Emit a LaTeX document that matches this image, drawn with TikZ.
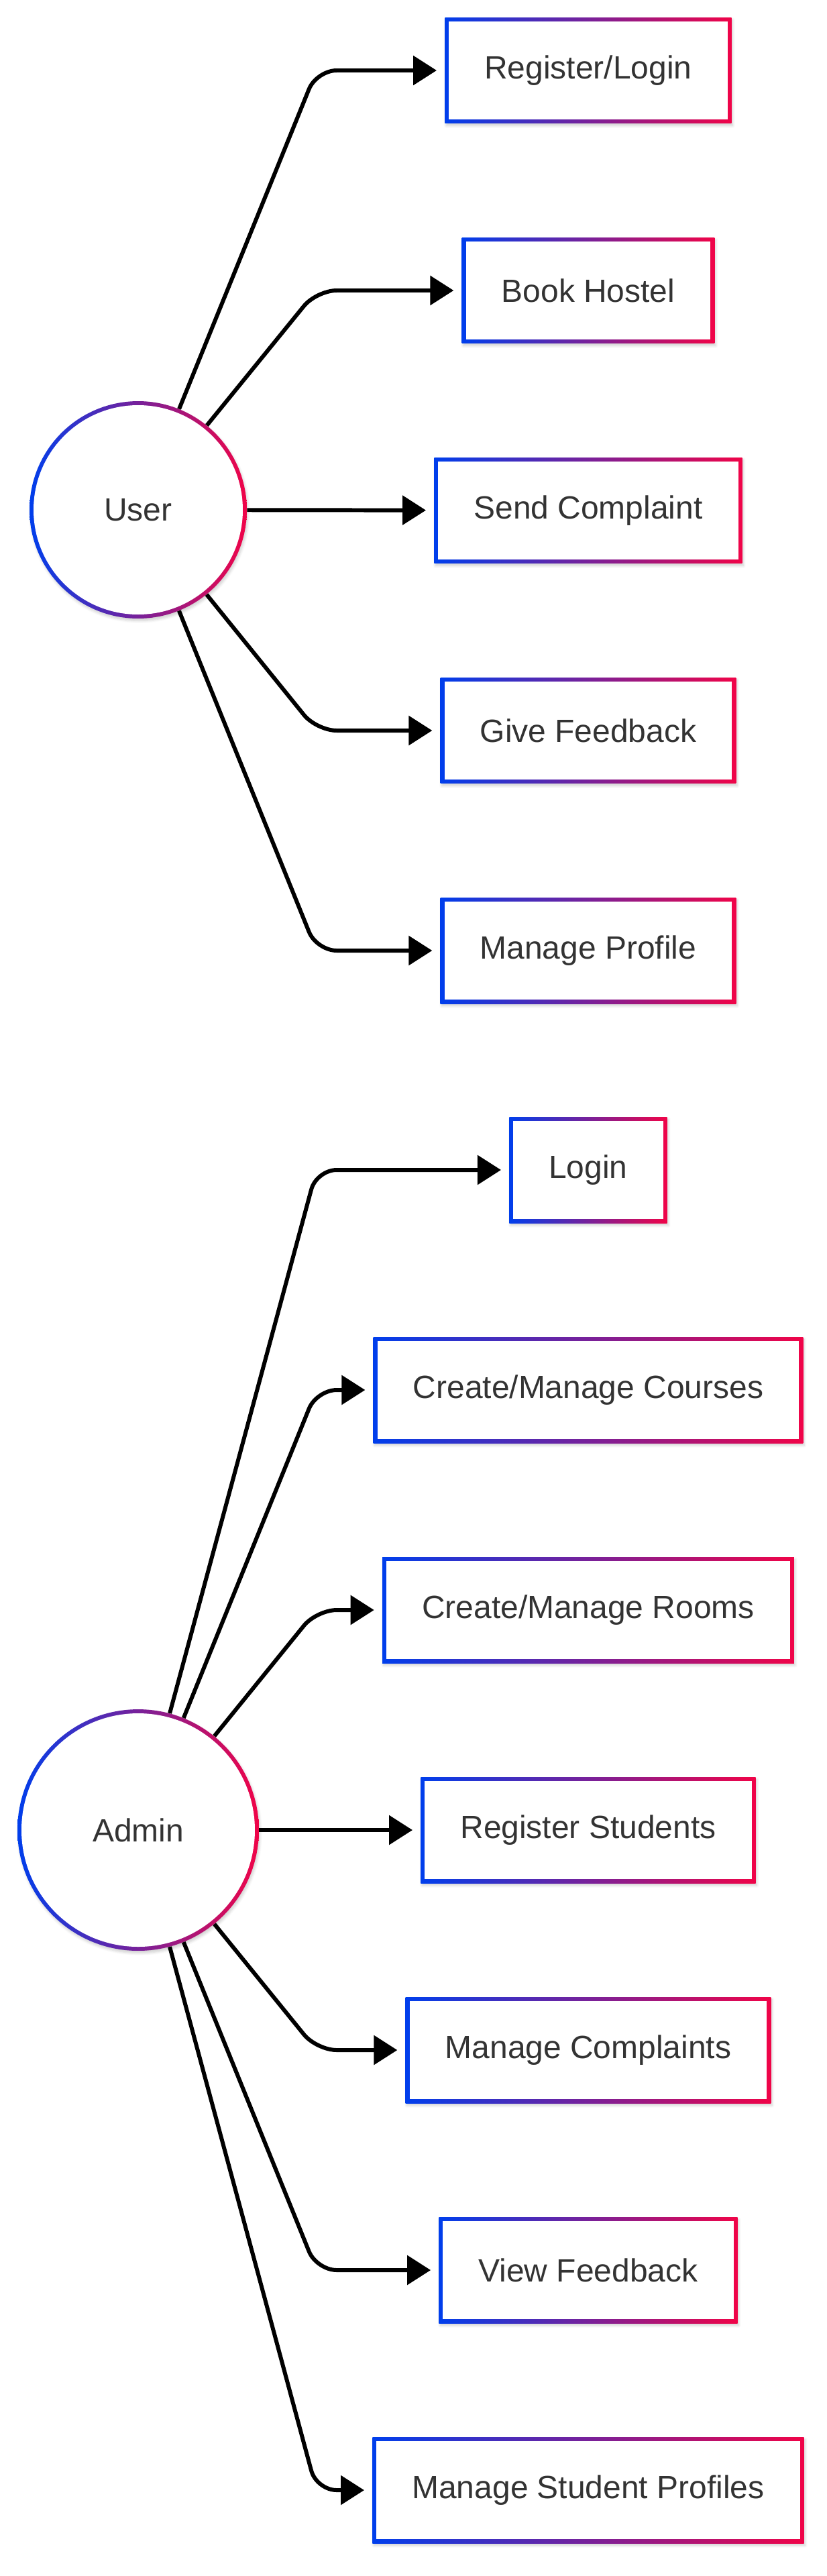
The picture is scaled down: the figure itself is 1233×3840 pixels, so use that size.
\documentclass[tikz,border=0pt]{standalone}
\usepackage{fontspec}
\setmainfont{Liberation Sans}
\usetikzlibrary{arrows.meta,shadows.blur}

\definecolor{gblue}{RGB}{0,62,236}
\definecolor{gred}{RGB}{240,4,72}
\definecolor{txtgray}{RGB}{51,51,51}

\tikzset{
  usecase/.style={rectangle, inner xsep=1.18cm, inner ysep=0pt, minimum height=3.16cm,
    text=txtgray, font=\fontsize{27.3}{32}\selectfont,
    blur shadow={shadow xshift=1pt, shadow yshift=-2pt, shadow blur steps=6, shadow opacity=18},
    path picture={
      \shade[left color=gblue, right color=gred] (path picture bounding box.south west) rectangle (path picture bounding box.north east);
      \fill[white] ([shift={(3.4pt,3.4pt)}]path picture bounding box.south west) rectangle ([shift={(-3.4pt,-3.4pt)}]path picture bounding box.north east);
    }},
  actor/.style={circle, minimum size=#1, inner sep=0pt,
    text=txtgray, font=\fontsize{27.3}{32}\selectfont,
    blur shadow={shadow xshift=1pt, shadow yshift=-2pt, shadow blur steps=6, shadow opacity=18},
    path picture={
      \shade[left color=gblue, right color=gred] (path picture bounding box.south west) rectangle (path picture bounding box.north east);
      \fill[white] (path picture bounding box.center) circle ({#1/2-3.4pt});
    }},
  flow/.style={line width=3.4pt, black, rounded corners=0.6cm, shorten >=0.24cm,
    -{Triangle[length=0.7cm, width=0.86cm]}}
}

\begin{document}
\begin{tikzpicture}[x=0.02cm, y=-0.02cm]
        \useasboundingbox (0,0) rectangle (1233,3840);

        % User and its use cases
        \node[actor=6.48cm] (user) at (206,760) {User};
        \node[usecase] (reglogin) at (877,105) {Register/Login};
        \node[usecase] (book) at (877,433) {Book Hostel};
        \node[usecase] (complaint) at (877,761) {Send Complaint};
        \node[usecase] (feedback) at (877,1089) {Give Feedback};
        \node[usecase] (profile) at (877,1417) {Manage Profile};

        % Admin and its use cases
        \node[actor=7.2cm] (admin) at (206,2728) {Admin};
        \node[usecase] (login) at (877,1744) {Login};
        \node[usecase] (courses) at (877,2072) {Create/Manage Courses};
        \node[usecase] (rooms) at (877,2400) {Create/Manage Rooms};
        \node[usecase] (regstud) at (877,2728) {Register Students};
        \node[usecase] (mcompl) at (877,3056) {Manage Complaints};
        \node[usecase] (vfeed) at (877,3384) {View Feedback};
        \node[usecase] (sprof) at (877,3712) {Manage Student Profiles};

        % Bend columns
        \coordinate (ubend) at (472,760);
        \coordinate (abend) at (472,2728);

        % Draw user arrows
        \draw[flow] (user) -- (ubend |- reglogin) -- (reglogin);
        \draw[flow] (user) -- (ubend |- book) -- (book);
        \draw[flow] (user) -- (complaint);
        \draw[flow] (user) -- (ubend |- feedback) -- (feedback);
        \draw[flow] (user) -- (ubend |- profile) -- (profile);

        % Draw admin arrows
        \draw[flow] (admin) -- (abend |- login) -- (login);
        \draw[flow] (admin) -- (abend |- courses) -- (courses);
        \draw[flow] (admin) -- (abend |- rooms) -- (rooms);
        \draw[flow] (admin) -- (regstud);
        \draw[flow] (admin) -- (abend |- mcompl) -- (mcompl);
        \draw[flow] (admin) -- (abend |- vfeed) -- (vfeed);
        \draw[flow] (admin) -- (abend |- sprof) -- (sprof);
    \end{tikzpicture}
\end{document}
